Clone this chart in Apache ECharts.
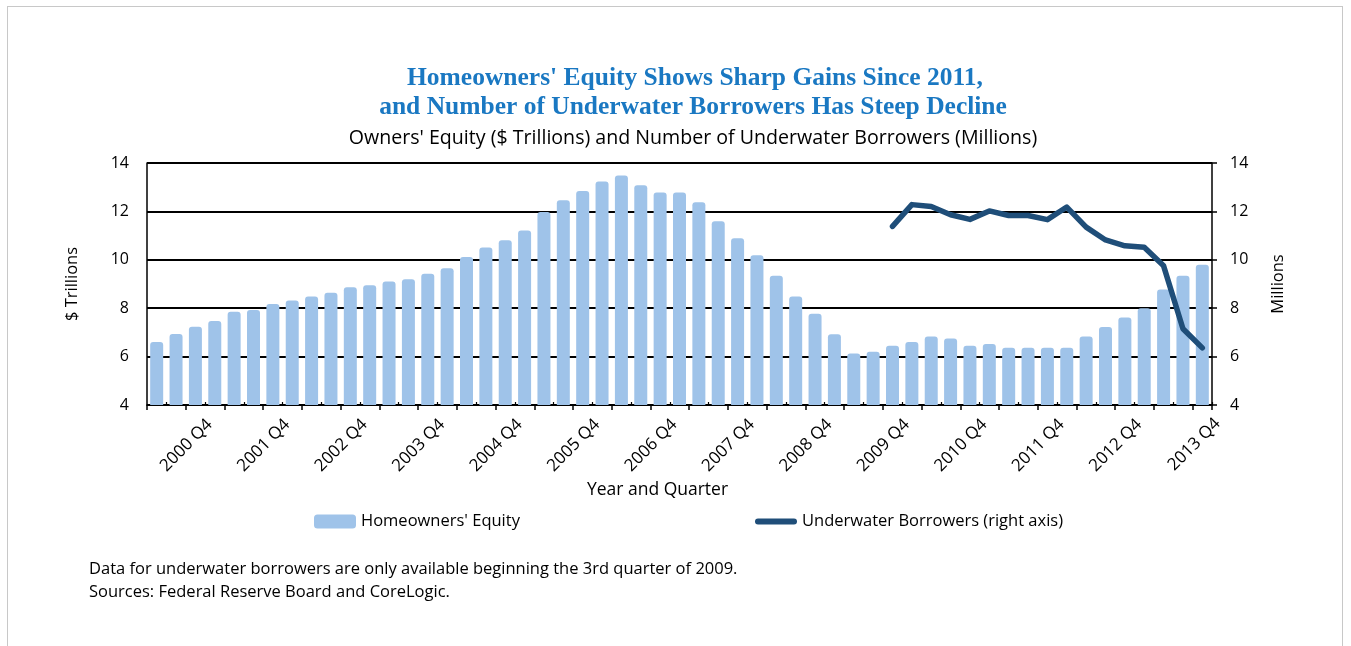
<!DOCTYPE html>
<html>
<head>
<meta charset="utf-8">
<script src="https://cdn.jsdelivr.net/npm/echarts@6/dist/echarts.min.js"></script>
<style>
html,body{margin:0;padding:0;background:#fff;}
#frame{position:absolute;left:7px;top:6px;width:1336px;height:700px;border:1px solid #c8c8c8;box-sizing:border-box;}
#chart{position:absolute;left:0;top:0;width:1351px;height:646px;}
</style>
</head>
<body>
<div id="frame"></div>
<div id="chart"></div>
<script>
// Categories: 2000 Q1 .. 2013 Q3 (55 quarters)
const categories = [];
for (let y = 2000; y <= 2013; y++) {
  for (let q = 1; q <= 4; q++) {
    if (y === 2013 && q === 4) break;
    categories.push(y + ' Q' + q);
  }
}
const extraEndLabel = '2013 Q4';

// Homeowners' equity, $ trillions
const equity = [
  6.60, 6.93, 7.23, 7.47, 7.85, 7.93, 8.17, 8.32, 8.48, 8.64,
  8.87, 8.95, 9.10, 9.20, 9.42, 9.65, 10.12, 10.51, 10.81, 11.21,
  11.98, 12.46, 12.84, 13.24, 13.48, 13.08, 12.78, 12.78, 12.38, 11.59,
  10.89, 10.19, 9.34, 8.48, 7.77, 6.92, 6.13, 6.20, 6.45, 6.60,
  6.83, 6.75, 6.45, 6.52, 6.37, 6.37, 6.37, 6.37, 6.83, 7.22,
  7.62, 8.00, 8.77, 9.34, 9.80
];

// Underwater borrowers, millions (from 2009 Q3)
const underwaterStart = '2009 Q3';
const underwater = [
  11.38, 12.28, 12.20, 11.86, 11.67, 12.02, 11.83, 11.83, 11.66, 12.18,
  11.35, 10.82, 10.58, 10.52, 9.75, 7.15, 6.36
];

const yTicks = { min: 4, max: 14, interval: 2 };

const startIdx = categories.indexOf(underwaterStart);
const underwaterSeries = categories.map((c, i) =>
  (i >= startIdx && i - startIdx < underwater.length) ? underwater[i - startIdx] : null);

const FONT = '"Open Sans", "Noto Sans", sans-serif';
const SERIF = '"Liberation Serif", "DejaVu Serif", serif';
const chart = echarts.init(document.getElementById('chart'), null, { renderer: 'canvas' });

const gridRect = { left: 147, right: 139, top: 163, bottom: 241 };
const xLabelMargin = 12;
const xLabelSize = 17;
const xLabelPadRight = 7;

const option = {
  backgroundColor: 'transparent',
  animation: false,
  textStyle: { fontFamily: FONT, color: '#000' },
  grid: gridRect,
  legend: [
    {
      data: [{ name: "Homeowners' Equity", icon: 'roundRect' }],
      left: 314, top: 513, itemWidth: 42, itemHeight: 14, padding: 0,
      textStyle: { fontFamily: FONT, fontSize: 16.5, color: '#000' }
    },
    {
      data: [{ name: 'Underwater Borrowers (right axis)', icon: 'path://M3,0 H39 A3,3 0 0 1 39,6 H3 A3,3 0 0 1 3,0 Z' }],
      left: 755, top: 513, itemWidth: 42, itemHeight: 14, padding: 0,
      textStyle: { fontFamily: FONT, fontSize: 16.5, color: '#000' }
    }
  ],
  xAxis: [
    {
      type: 'category',
      data: categories,
      position: 'bottom',
      boundaryGap: true,
      name: 'Year and Quarter',
      nameLocation: 'middle',
      nameGap: 76,
      nameTextStyle: { fontFamily: FONT, fontSize: 17.5, color: '#000', padding: [0, 44, 0, 0] },
      axisLine: { show: true, lineStyle: { color: '#000', width: 1.5 } },
      axisTick: { show: true, inside: false, length: 5, interval: (i) => i % 2 === 0, lineStyle: { color: '#000', width: 1.5 } },
      axisLabel: {
        interval: (i, v) => v.endsWith('Q4'),
        rotate: 45, margin: xLabelMargin,
        padding: [0, xLabelPadRight, 0, 0],
        fontFamily: FONT, fontSize: xLabelSize, color: '#000'
      },
      splitLine: { show: false }
    },
    {
      type: 'category',
      data: categories,
      position: 'top',
      offset: -242,
      boundaryGap: true,
      axisLine: { show: false },
      axisTick: { show: true, inside: false, length: 3, interval: (i) => i % 2 === 1, lineStyle: { color: '#000', width: 1.2 } },
      axisLabel: { show: false },
      splitLine: { show: false }
    }
  ],
  yAxis: [
    {
      type: 'value', min: yTicks.min, max: yTicks.max, interval: yTicks.interval,
      name: '$ Trillions', nameLocation: 'middle', nameGap: 66, nameRotate: 90,
      nameTextStyle: { fontFamily: FONT, fontSize: 16.5, color: '#000' },
      axisLine: { show: true, lineStyle: { color: '#000', width: 1.5 } },
      axisTick: { show: true, inside: true, length: 5, lineStyle: { color: '#000', width: 1.5 } },
      axisLabel: { margin: 18, fontFamily: FONT, fontSize: 16, color: '#000' },
      splitLine: { show: true, lineStyle: { color: '#000', width: 1.8 } }
    },
    {
      type: 'value', min: yTicks.min, max: yTicks.max, interval: yTicks.interval,
      position: 'right',
      name: 'Millions', nameLocation: 'middle', nameGap: 58, nameRotate: 90,
      nameTextStyle: { fontFamily: FONT, fontSize: 16.5, color: '#000' },
      axisLine: { show: true, lineStyle: { color: '#000', width: 1.5 } },
      axisTick: { show: true, inside: false, length: 5, lineStyle: { color: '#000', width: 1.5 } },
      axisLabel: { margin: 18, fontFamily: FONT, fontSize: 16, color: '#000' },
      splitLine: { show: false }
    }
  ],
  series: [
    {
      name: "Homeowners' Equity",
      type: 'bar',
      data: equity,
      barWidth: 13,
      itemStyle: { color: '#9fc3e9', borderRadius: [3, 3, 0, 0] },
      z: 2
    },
    {
      name: 'Underwater Borrowers (right axis)',
      type: 'line',
      yAxisIndex: 1,
      data: underwaterSeries,
      connectNulls: false,
      symbol: 'none',
      color: '#1f4e79',
      itemStyle: { color: '#1f4e79' },
      lineStyle: { color: '#1f4e79', width: 5.5, cap: 'round', join: 'round' },
      z: 3
    }
  ],
  graphic: [
    {
      type: 'text', id: 't1', x: 695, y: 78,
      style: { text: "Homeowners' Equity Shows Sharp Gains Since 2011,", align: 'center', verticalAlign: 'middle',
        fontFamily: SERIF, fontWeight: 'bold', fontSize: 25.5, fill: '#1a78c2' }
    },
    {
      type: 'text', id: 't2', x: 693, y: 107,
      style: { text: 'and Number of Underwater Borrowers Has Steep Decline', align: 'center', verticalAlign: 'middle',
        fontFamily: SERIF, fontWeight: 'bold', fontSize: 25.5, fill: '#1a78c2' }
    },
    {
      type: 'text', id: 't3', x: 693, y: 138,
      style: { text: "Owners' Equity ($ Trillions) and Number of Underwater Borrowers (Millions)", align: 'center', verticalAlign: 'middle',
        fontFamily: FONT, fontSize: 19.6, fill: '#000' }
    },
    {
      type: 'text', id: 'f1', x: 89, y: 569,
      style: { text: 'Data for underwater borrowers are only available beginning the 3rd quarter of 2009.', align: 'left', verticalAlign: 'middle',
        fontFamily: FONT, fontSize: 16.5, fill: '#000' }
    },
    {
      type: 'text', id: 'f2', x: 89, y: 592,
      style: { text: 'Sources: Federal Reserve Board and CoreLogic.', align: 'left', verticalAlign: 'middle',
        fontFamily: FONT, fontSize: 16.5, fill: '#000' }
    }
  ]
};

chart.setOption(option);

// Axis label for the quarter that follows the last category (shown in the reference at the axis end)
const lastX = chart.convertToPixel({ xAxisIndex: 0 }, categories[categories.length - 1]);
const prevX = chart.convertToPixel({ xAxisIndex: 0 }, categories[categories.length - 2]);
const band = lastX - prevX;
const axisY = chart.convertToPixel({ yAxisIndex: 0 }, yTicks.min);
chart.setOption({
  graphic: [{
    type: 'text', id: 'endLabel', x: lastX + band - 4, y: axisY + xLabelMargin + 4, rotation: Math.PI / 4,
    style: { text: extraEndLabel, align: 'right', verticalAlign: 'middle', fontFamily: FONT, fontSize: xLabelSize, fill: '#000' }
  }]
});
</script>
</body>
</html>
